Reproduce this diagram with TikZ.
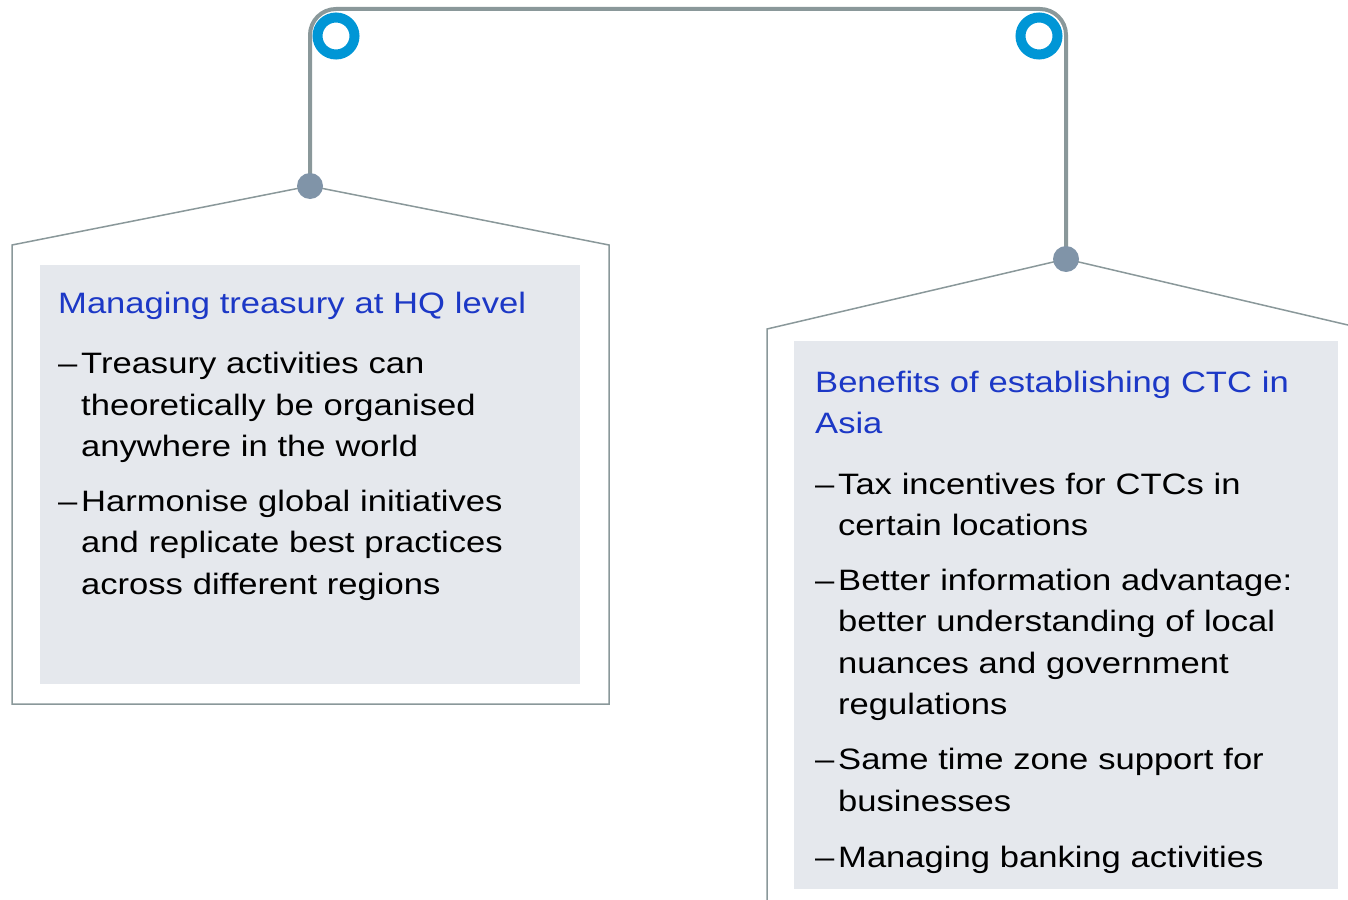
\documentclass[tikz,border=0pt]{standalone}
\usepackage{fontspec}
\setmainfont[FakeStretch=1.172]{Liberation Sans}
\usetikzlibrary{positioning,backgrounds}

\definecolor{hangergray}{RGB}{138,152,154}
\definecolor{ringblue}{RGB}{0,150,214}
\definecolor{pingray}{RGB}{128,148,168}
\definecolor{panelgray}{RGB}{229,232,237}
\definecolor{headblue}{RGB}{28,56,198}

\newcommand{\dashitem}{\makebox[23pt][l]{--}}
\newcommand{\hang}{\hspace*{23pt}}

\tikzset{
  hanger/.style={draw=hangergray, line width=4pt, rounded corners=26pt},
  frameline/.style={draw=hangergray, line width=1.5pt},
  panel/.style={fill=panelgray},
  ring/.style={circle, draw=ringblue, line width=10pt, minimum size=37pt, inner sep=0pt},
  pin/.style={circle, fill=pingray, minimum size=26pt, inner sep=0pt},
  txt/.style={inner sep=0pt, anchor=north west, align=left,
    font=\fontsize{29.5}{41.5}\selectfont},
  head/.style={txt, text=headblue},
  item/.style={txt}
}

\begin{document}
\begin{tikzpicture}[x=1pt, y=-1pt]
  \useasboundingbox (0,0) rectangle (1348,899);
  \clip (0,0) rectangle (1348,899);

  % panels
  \fill[panel] (40,265) rectangle (580,684);
  \fill[panel] (794,341) rectangle (1338,889);

  % pins and rings
  \node[pin] (dotL) at (310,186) {};
  \node[pin] (dotR) at (1066,259) {};
  \node[ring] (ringL) at (336,36) {};
  \node[ring] (ringR) at (1039,36) {};

  % left text
  \node[head, text width=520pt] (headL) at (58,284) {\strut Managing treasury at HQ level\strut};
  \node[item, text width=520pt, below=18.5pt of headL.south west, anchor=north west] (itemLa)
    {\dashitem\strut Treasury activities can\\\hang theoretically be organised\\\hang anywhere in the world\strut};
  \node[item, text width=520pt, below=12.5pt of itemLa.south west, anchor=north west] (itemLb)
    {\dashitem\strut Harmonise global initiatives\\\hang and replicate best practices\\\hang across different regions\strut};

  % right text
  \node[head, text width=530pt] (headR) at (815,363) {\strut Benefits of establishing CTC in\\Asia\strut};
  \node[item, text width=530pt, below=18.5pt of headR.south west, anchor=north west] (itemRa)
    {\dashitem\strut Tax incentives for CTCs in\\\hang certain locations\strut};
  \node[item, text width=530pt, below=12.5pt of itemRa.south west, anchor=north west] (itemRb)
    {\dashitem\strut Better information advantage:\\\hang better understanding of local\\\hang nuances and government\\\hang regulations\strut};
  \node[item, text width=530pt, below=13.5pt of itemRb.south west, anchor=north west] (itemRc)
    {\dashitem\strut Same time zone support for\\\hang businesses\strut};
  \node[item, text width=530pt, below=14.5pt of itemRc.south west, anchor=north west] (itemRd)
    {\dashitem\strut Managing banking activities\strut};

  \begin{scope}[on background layer]
    \draw[hanger] (dotL.center) |- (dotR.center |- 0,9) -- (dotR.center);
    \draw[frameline] (dotL.center) -- (12,245) -- (12,704) -- (609,704) -- (609,245) -- cycle;
    \draw[frameline] (767,905) -- (767,329) -- (dotR.center) -- (1365,329) -- (1365,905);
  \end{scope}
\end{tikzpicture}
\end{document}
